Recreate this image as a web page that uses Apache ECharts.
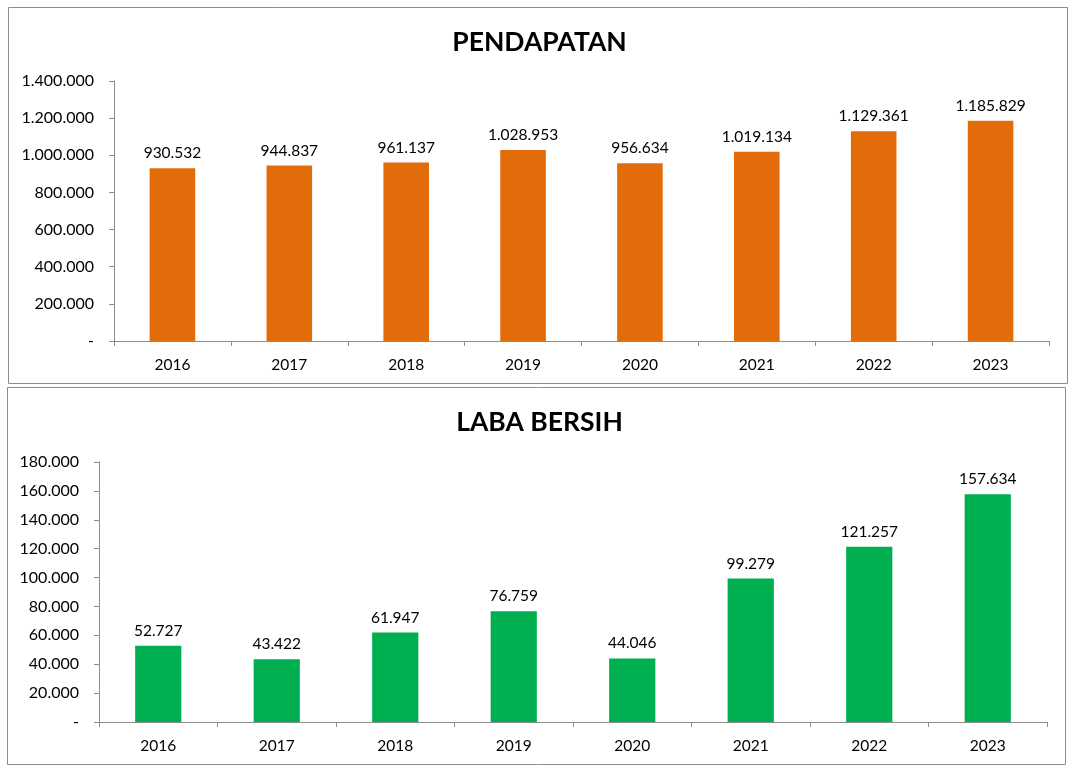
<!DOCTYPE html>
<html><head><meta charset="utf-8">
<script src="https://cdn.jsdelivr.net/npm/echarts@6/dist/echarts.min.js"></script>
<style>html,body{margin:0;padding:0;background:#fff}#c{width:1079px;height:779px}</style>
</head><body><div id="c"></div>
<script>
const years = ['2016','2017','2018','2019','2020','2021','2022','2023'];
const pendapatan = [930532, 944837, 961137, 1028953, 956634, 1019134, 1129361, 1185829];
const labaBersih = [52727, 43422, 61947, 76759, 44046, 99279, 121257, 157634];
const titles = ['PENDAPATAN', 'LABA BERSIH'];

const FONT = 'Lato, "Open Sans", sans-serif';
function fmt(v){ if(v===0) return '-'; return String(Math.round(v)).replace(/\B(?=(\d{3})+(?!\d))/g,'.'); }

const chart = echarts.init(document.getElementById('c'));
const axisCol = '#8c8c8c';
function xAx(gi){ return {type:'category', gridIndex:gi, data:years, boundaryGap:true,
  axisLine:{lineStyle:{color:axisCol,width:1}},
  axisTick:{show:true,length:5,alignWithLabel:false,lineStyle:{color:axisCol}},
  axisLabel:{color:'#000',fontFamily:FONT,fontSize:15.5,margin:16}};}
function yAx(gi,max,interval){ return {type:'value', gridIndex:gi, min:0, max:max, interval:interval,
  axisLine:{show:true,lineStyle:{color:axisCol,width:1}},
  axisTick:{show:true,length:5,inside:false,lineStyle:{color:axisCol}},
  splitLine:{show:false},
  axisLabel:{color:'#000',fontFamily:FONT,fontSize:16,margin:20,formatter:fmt}};}
function lbl(){ return {show:true,position:'top',distance:7,color:'#000',fontFamily:FONT,fontSize:15.5,formatter:p=>fmt(p.value)}; }

chart.setOption({
  animation:false,
  backgroundColor:'#fff',
  title:[
    {text:titles[0],left:'center',top:24,textStyle:{fontFamily:FONT,fontSize:26.5,fontWeight:'bold',color:'#000'}},
    {text:titles[1],left:'center',top:404,textStyle:{fontFamily:FONT,fontSize:26.5,fontWeight:'bold',color:'#000'}}
  ],
  graphic:[
    {type:'rect',shape:{x:8.5,y:7.5,width:1059,height:376},style:{fill:'none',stroke:'#8c8c8c',lineWidth:1},z:-1},
    {type:'rect',shape:{x:7.5,y:387.5,width:1058,height:377},style:{fill:'none',stroke:'#8c8c8c',lineWidth:1},z:-1}
  ],
  grid:[
    {left:114,top:81,right:30,bottom:438},
    {left:99,top:462,right:32,bottom:57}
  ],
  xAxis:[xAx(0),xAx(1)],
  yAxis:[yAx(0,1400000,200000),yAx(1,180000,20000)],
  series:[
    {type:'bar',xAxisIndex:0,yAxisIndex:0,data:pendapatan,barWidth:'39%',itemStyle:{color:'#E36C0A'},label:lbl()},
    {type:'bar',xAxisIndex:1,yAxisIndex:1,data:labaBersih,barWidth:'39%',itemStyle:{color:'#00B050'},label:lbl()}
  ]
});
</script></body></html>
